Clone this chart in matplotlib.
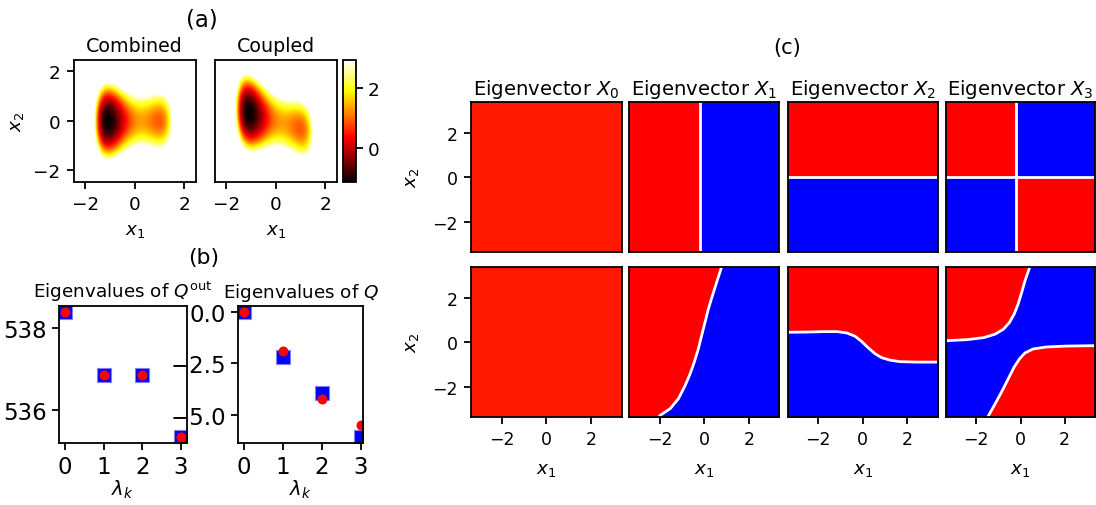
import matplotlib.pyplot as plt
import numpy as np

W, H = 1096, 506
fig = plt.figure(figsize=(W / 100, H / 100), dpi=100)
plt.rcParams['font.family'] = 'DejaVu Sans'
plt.rcParams['axes.linewidth'] = 1.3

# ---- (a) potential, double well along x1, harmonic along x2 ----
well_centre, well_scale = 0.04, 1.17
quartic_a, tilt_b, offset_d, sextic_e = 1.53, 1.19, -0.33, 0.34
stiff_x2 = 1.66
coupling = -0.3          # x2 centre follows coupling * x1 in the coupled model
v_lo, v_hi = -1.11, 2.95
lim_a = 2.47

# ---- (b) eigenvalues (squares: reference, dots: estimate) ----
k = [0, 1, 2, 3]
qout_ref = [538.40, 536.87, 536.87, 535.35]
qout_est = [538.40, 536.87, 536.87, 535.35]
q_ref = [0.0, -2.18, -3.97, -6.08]
q_est = [0.0, -1.90, -4.26, -5.53]

# ---- (c) sign of eigenvectors, nodal lines ----
lim_c = 3.37
split_x1 = -0.19
split_x2 = 0.0
# coupled X1 nodal line
b1_x2 = [-3.40, -3.28, -2.98, -2.53, -1.94, -1.42, -0.89, -0.30, 0.30, 0.89, 1.49, 2.08, 2.68, 3.30, 3.40]
b1_x1 = [-2.08, -1.98, -1.53, -1.16, -0.86, -0.64, -0.45, -0.27, -0.12, 0.03, 0.18, 0.36, 0.55, 0.75, 0.78]
# coupled X2 nodal line
b2_x1 = [-3.40, -2.50, -1.76, -1.16, -0.71, -0.34, -0.04, 0.25, 0.55, 0.85, 1.22, 1.67, 2.41, 3.40]
b2_x2 = [0.45, 0.46, 0.48, 0.48, 0.42, 0.27, 0.03, -0.25, -0.51, -0.69, -0.80, -0.87, -0.89, -0.89]
# coupled X3 nodal lines (upper-left and lower-right)
b3u_x1 = [-3.40, -2.40, -1.66, -1.14, -0.77, -0.50, -0.29, -0.11, 0.05, 0.20, 0.39, 0.42]
b3u_x2 = [0.07, 0.12, 0.21, 0.37, 0.59, 0.89, 1.26, 1.71, 2.23, 2.75, 3.30, 3.40]
b3l_x1 = [-1.49, -1.44, -1.14, -0.84, -0.54, -0.29, -0.05, 0.20, 0.57, 1.17, 2.06, 3.40]
b3l_x2 = [-3.40, -3.28, -2.75, -2.20, -1.61, -1.12, -0.75, -0.48, -0.30, -0.21, -0.17, -0.15]

RED0 = '#ff1800'
RED = '#ff0000'
BLUE = '#0000ff'


def box(l, t, r, b):
    return fig.add_axes([l / W, 1 - b / H, (r - l) / W, (b - t) / H])


def potential(x1, x2, c):
    u = (x1 - well_centre) / well_scale
    f = quartic_a * (u**2 - 1)**2 + tilt_b * u + offset_d + sextic_e * u**6
    return f + stiff_x2 * (x2 - c * x1)**2


g = np.linspace(-lim_a, lim_a, 300)
X1, X2 = np.meshgrid(g, g)

ax_comb = box(72.7, 60.7, 196.7, 182.7)
ax_coup = box(214, 60.7, 337.7, 182.7)
cax = box(343.3, 60.7, 355.7, 182.7)
for ax, title, c in [(ax_comb, 'Combined', 0.0), (ax_coup, 'Coupled', coupling)]:
    im = ax.imshow(potential(X1, X2, c), origin='lower', cmap='hot', vmin=v_lo, vmax=v_hi,
                   extent=(-lim_a, lim_a, -lim_a, lim_a), interpolation='bilinear')
    ax.set_title(title, fontsize=13.7)
    ax.set_xticks([-2, 0, 2])
    ax.set_yticks([-2, 0, 2])
    ax.tick_params(labelsize=13.2, width=1.3, length=5, pad=4.5)
    ax.set_xlabel(r'$x_1$', fontsize=13.2, labelpad=6)
ax_coup.set_yticks([])
ax_comb.set_ylabel(r'$x_2$', fontsize=13.2)
ax_comb.yaxis.set_label_coords(-0.39, 0.5)
cb = fig.colorbar(im, cax=cax, ticks=[0, 2])
cb.ax.tick_params(labelsize=13.2, width=1.3, length=5)
cb.outline.set_linewidth(1.3)
fig.text(202 / W, 1 - 20 / H, '(a)', ha='center', va='center', fontsize=16.4)

# ---- (b) ----
ax_qo = box(59, 306.7, 186.7, 444)
ax_q = box(238, 306.7, 363.3, 444)
for ax, ref, est, title in [(ax_qo, qout_ref, qout_est, r'Eigenvalues of $Q^{\mathrm{out}}$'),
                            (ax_q, q_ref, q_est, r'Eigenvalues of $Q$')]:
    ax.plot(k, ref, 's', color='blue', ms=9.6, mec='#7f7fff', mew=0.8)
    ax.plot(k, est, 'o', color='red', ms=7.2, mew=0)
    ax.set_title(title, fontsize=13.2)
    ax.set_xticks(k)
    ax.tick_params(labelsize=16.5, width=1.3, length=5)
    ax.set_xlabel(r'$\lambda_k$', fontsize=14, labelpad=0)
ax_qo.set_xlim(-0.15, 3.15)
ax_q.set_xlim(-0.15, 3.07)
ax_qo.set_yticks([536, 538])
ax_q.set_yticks([0.0, -2.5, -5.0])
fig.text(204 / W, 1 - 258 / H, '(b)', ha='center', va='center', fontsize=15.8)

# ---- (c) ----
cols = [(471, 621.7), (629.3, 779.3), (787.7, 937.7), (946, 1095)]
rows = [(103.3, 253.3), (268.3, 418.3)]
L = lim_c
axes_c = [[box(l, t, r, b) for (l, r) in cols] for (t, b) in rows]
lw_node = 2.0

# uncoupled
a = axes_c[0]
a[0].fill_between([-L, L], -L, L, color=RED0, lw=0)
a[1].fill_between([-L, split_x1], -L, L, color=RED, lw=0)
a[1].fill_between([split_x1, L], -L, L, color=BLUE, lw=0)
a[1].axvline(split_x1, color='white', lw=lw_node)
a[2].fill_between([-L, L], split_x2, L, color=RED, lw=0)
a[2].fill_between([-L, L], -L, split_x2, color=BLUE, lw=0)
a[2].axhline(split_x2, color='white', lw=lw_node)
a[3].fill_between([-L, split_x1], split_x2, L, color=RED, lw=0)
a[3].fill_between([split_x1, L], -L, split_x2, color=RED, lw=0)
a[3].fill_between([-L, split_x1], -L, split_x2, color=BLUE, lw=0)
a[3].fill_between([split_x1, L], split_x2, L, color=BLUE, lw=0)
a[3].axvline(split_x1, color='white', lw=lw_node)
a[3].axhline(split_x2, color='white', lw=lw_node)

# coupled
a = axes_c[1]
a[0].fill_between([-L, L], -L, L, color=RED0, lw=0)
a[1].fill_betweenx(b1_x2, -L, b1_x1, color=RED, lw=0)
a[1].fill_betweenx(b1_x2, b1_x1, L, color=BLUE, lw=0)
a[1].plot(b1_x1, b1_x2, color='white', lw=lw_node)
a[2].fill_between(b2_x1, b2_x2, L, color=RED, lw=0)
a[2].fill_between(b2_x1, -L, b2_x2, color=BLUE, lw=0)
a[2].plot(b2_x1, b2_x2, color='white', lw=lw_node)
a[3].fill_between([-L, L], -L, L, color=BLUE, lw=0)
a[3].fill_between(b3u_x1, b3u_x2, L, color=RED, lw=0)
a[3].fill_between(b3l_x1, -L, b3l_x2, color=RED, lw=0)
a[3].plot(b3u_x1, b3u_x2, color='white', lw=lw_node)
a[3].plot(b3l_x1, b3l_x2, color='white', lw=lw_node)

for i, row in enumerate(axes_c):
    for j, ax in enumerate(row):
        ax.set_xlim(-L, L)
        ax.set_ylim(-L, L)
        ax.tick_params(labelsize=12.5, width=1.3, length=5, pad=4.5)
        if i == 0:
            ax.set_title('Eigenvector $X_{%d}$' % j, fontsize=14.1)
            ax.set_xticks([])
        else:
            ax.set_xticks([-2, 0, 2])
            ax.set_xlabel(r'$x_1$', fontsize=13.2, labelpad=8)
        if j == 0:
            ax.set_yticks([-2, 0, 2])
            ax.set_ylabel(r'$x_2$', fontsize=13.2)
            ax.yaxis.set_label_coords(-0.33, 0.5)
        else:
            ax.set_yticks([])
fig.text(786.7 / W, 1 - 48 / H, '(c)', ha='center', va='center', fontsize=15)

fig.savefig('out.png', dpi=100)
